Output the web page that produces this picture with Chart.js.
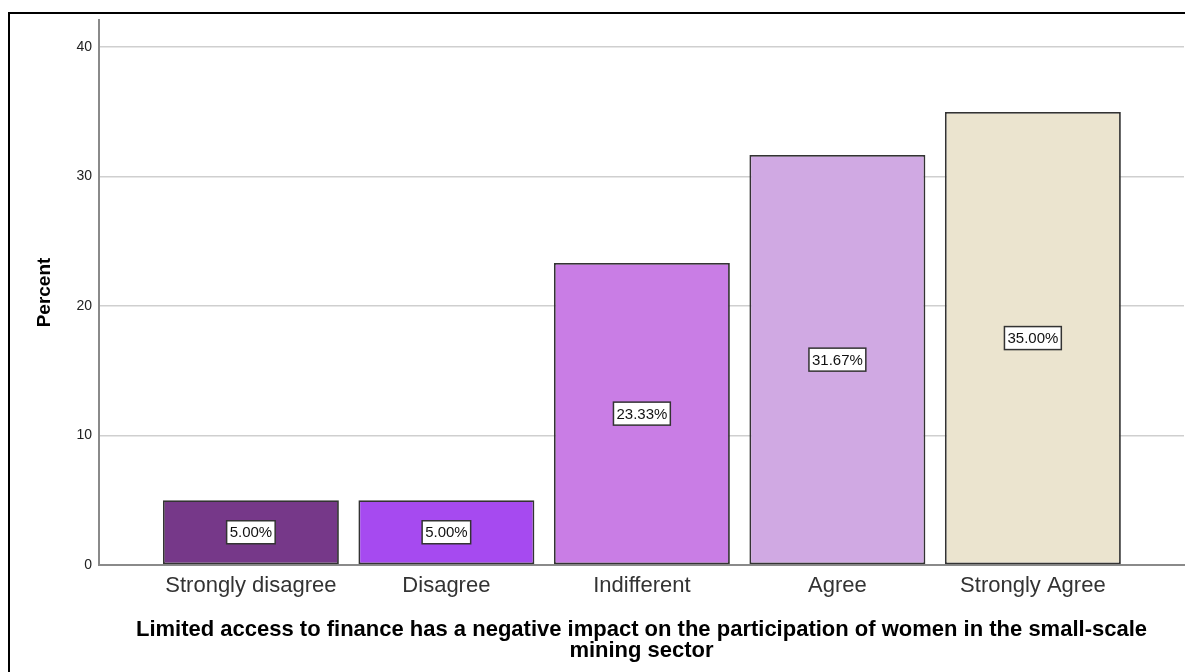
<!DOCTYPE html>
<html>
<head>
<meta charset="utf-8">
<script src="https://cdn.jsdelivr.net/npm/chart.js@4/dist/chart.umd.min.js"></script>
<style>
  html, body { margin: 0; padding: 0; background: #fff; overflow: hidden; }
  #frame { position: absolute; left: 8px; top: 12px; width: 1300px; height: 800px;
           border: 2px solid #000; box-sizing: border-box; }
  #wrap { position: absolute; left: 0; top: 0; width: 1185px; height: 672px; }
</style>
</head>
<body>
<div id="frame"></div>
<div id="wrap"><canvas id="c" width="1185" height="672"></canvas></div>
<script>
// Response categories and their share of respondents (%)
const categories = ['Strongly disagree', 'Disagree', 'Indifferent', 'Agree', 'Strongly Agree'];
const percents = [5.00, 5.00, 23.33, 31.67, 35.00];
const barColors = ['#763889', '#a64af0', '#c97de5', '#d0a9e3', '#ebe4cf'];
const yTicks = [0, 10, 20, 30, 40];

const axisTitle = ['Limited access to finance has a negative impact on the participation of women in the small-scale',
                   'mining sector'];
const FONT = "'Liberation Sans', Arial, sans-serif";

// White boxed percentage in the middle of each bar
const barValueLabels = {
  id: 'barValueLabels',
  afterDatasetsDraw(chart) {
    const ctx = chart.ctx;
    const meta = chart.getDatasetMeta(0);
    ctx.save();
    ctx.font = '15px ' + FONT;
    ctx.textAlign = 'center';
    ctx.textBaseline = 'middle';
    meta.data.forEach((bar, i) => {
      const text = percents[i].toFixed(2) + '%';
      const w = ctx.measureText(text).width + 6;
      const h = 23;
      const cx = bar.x;
      const cy = (bar.y + bar.base) / 2;
      ctx.fillStyle = '#ffffff';
      ctx.fillRect(cx - w / 2, cy - h / 2, w, h);
      ctx.lineWidth = 1.5;
      ctx.strokeStyle = '#333333';
      ctx.strokeRect(cx - w / 2, cy - h / 2, w, h);
      ctx.fillStyle = '#111111';
      ctx.fillText(text, cx, cy + 1);
    });
    ctx.restore();
  }
};

new Chart(document.getElementById('c'), {
  type: 'bar',
  data: {
    datasets: [{
      data: categories.map((c, i) => ({ x: i, y: percents[i] })),
      backgroundColor: barColors,
      borderColor: '#333333',
      borderWidth: 1.8,
      borderSkipped: false,
      barPercentage: 0.9,
      categoryPercentage: 1.0
    }]
  },
  options: {
    responsive: false,
    animation: false,
    layout: { padding: { left: 0, top: 20, right: 1, bottom: 0 } },
    plugins: { legend: { display: false }, tooltip: { enabled: false } },
    scales: {
      x: {
        type: 'linear',
        offset: false,
        min: -0.777,
        max: 4.773,
        afterBuildTicks: (scale) => { scale.ticks = categories.map((c, i) => ({ value: i })); },
        afterFit: (scale) => { scale.height = 107; },
        grid: { display: false, drawTicks: false },
        border: { display: true, color: '#8a8a8a', width: 2 },
        ticks: {
          autoSkip: false,
          maxRotation: 0,
          padding: 8,
          color: '#333333',
          font: { family: FONT, size: 22 },
          callback: (v) => categories[v]
        },
        title: {
          display: true,
          text: axisTitle,
          color: '#000000',
          font: { family: FONT, size: 22, weight: 'bold', lineHeight: '21px' },
          padding: { top: 0, bottom: 11 }
        }
      },
      y: {
        min: 0,
        max: 42.1,
        afterBuildTicks: (scale) => { scale.ticks = yTicks.map(v => ({ value: v })); },
        afterFit: (scale) => { scale.width = 99; },
        grid: { color: '#cfcfcf', lineWidth: 1.5, drawTicks: false },
        border: { display: true, color: '#8a8a8a', width: 2 },
        ticks: {
          padding: 7,
          color: '#222222',
          font: { family: FONT, size: 14 }
        },
        title: {
          display: true,
          text: 'Percent',
          color: '#000000',
          font: { family: FONT, size: 19, weight: 'bold' },
          padding: { top: 33, bottom: 0 }
        }
      }
    }
  },
  plugins: [barValueLabels]
});
</script>
</body>
</html>
